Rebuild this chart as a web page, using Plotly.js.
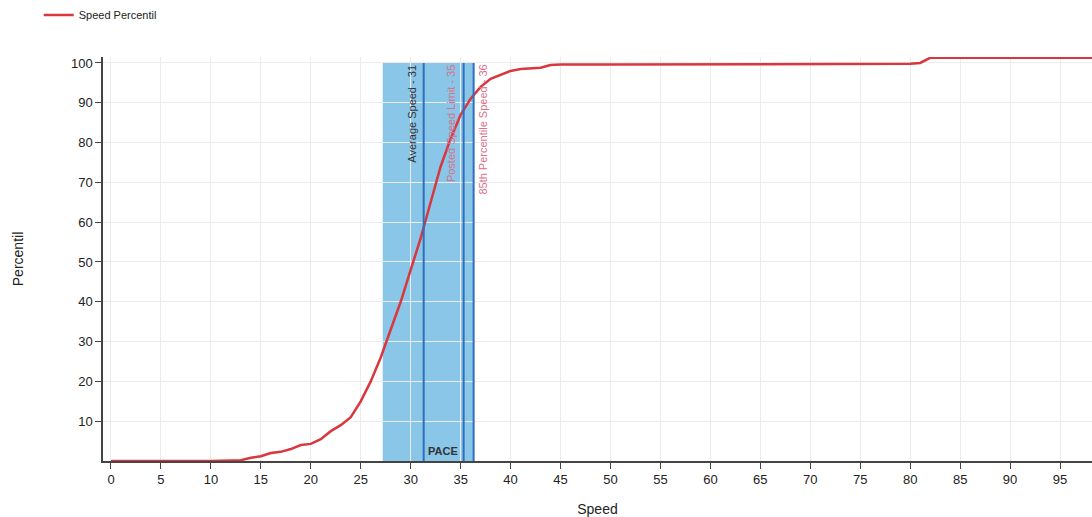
<!DOCTYPE html>
<html><head><meta charset="utf-8">
<script src="https://cdn.plot.ly/plotly-3.0.1.min.js"></script>
<style>html,body{margin:0;padding:0;background:#fff}#chart{width:1092px;height:517px}</style>
</head><body><div id="chart"></div>
<script>
// speed percentile curve
const speeds = [0,5,10,13,14,15,16,17,18,19,20,21,22,23,24,25,26,27,28,29,30,31,32,33,34,35,36,37,38,39,40,41,42,43,44,45,50,60,70,80,81,82,90,100];
const percentil = [0,0,0,0.2,0.8,1.2,2,2.3,3,4,4.3,5.5,7.5,9,11,15,20,26,33,40,48,56,65,74,81,87,91,94,96,97,98,98.5,98.7,98.8,99.5,99.6,99.6,99.7,99.8,99.8,100,101.3,101.3,101.3];

const paceRange = [27.2, 36.3];
const markerNames = ['Average Speed - 31', 'Posted Speed Limit - 35', '85th Percentile Speed - 36'];
const markerSpeeds = [31.3, 35.3, 36.3];
const markerColors = ['#333333', '#d9708a', '#d9708a'];
const labelSide = ['right', 'right', 'left'];

const shapes = [{type:'rect', xref:'x', yref:'y', x0:paceRange[0], x1:paceRange[1], y0:0, y1:100,
  fillcolor:'#7cc0e6', opacity:0.9, line:{width:0}, layer:'below'}];
markerSpeeds.forEach(s => shapes.push({type:'line', xref:'x', yref:'y', x0:s, x1:s, y0:0, y1:100,
  line:{color:'#2f6fc0', width:2}}));

const annotations = markerSpeeds.map((s, i) => ({
  x: s, y: 100, xref:'x', yref:'y', text: markerNames[i], showarrow:false, textangle:-90,
  xanchor:labelSide[i], yanchor:'top', xshift: labelSide[i] === 'right' ? -4 : 1,
  font:{size:11, color:markerColors[i], family:'Liberation Sans'}
}));
annotations.push({x:(paceRange[0]+paceRange[1])/2 + 1.5, y:0, xref:'x', yref:'y', text:'<b>PACE</b>',
  showarrow:false, yanchor:'bottom', yshift:2, font:{size:11, color:'#333', family:'Liberation Sans'}});

Plotly.newPlot('chart', [{
  x: speeds, y: percentil, mode:'lines', name:'Speed Percentil',
  line:{color:'#d9363e', width:2.5}
}], {
  width:1092, height:517,
  paper_bgcolor:'#fff', plot_bgcolor:'#fff',
  font:{family:'Liberation Sans', color:'#222', size:13},
  margin:{t:57, r:0, b:56, l:103},
  showlegend:true,
  legend:{x:-0.065, y:1.14, xanchor:'left', yanchor:'top', font:{size:11}},
  xaxis:{range:[-0.8, 98.2], tickvals:[0,5,10,15,20,25,30,35,40,45,50,55,60,65,70,75,80,85,90,95],
    ticks:'outside', ticklen:6, showline:true, linecolor:'#444', linewidth:1.5, gridcolor:'#ececec',
    zeroline:false, title:{text:'Speed', font:{size:14}}},
  yaxis:{range:[0, 101.5], tickvals:[10,20,30,40,50,60,70,80,90,100],
    ticks:'outside', ticklen:6, showline:true, linecolor:'#444', linewidth:1.5, gridcolor:'#ececec',
    zeroline:false, title:{text:'Percentil', font:{size:14}, standoff:44}},
  shapes, annotations
}, {displayModeBar:false});
</script></body></html>
